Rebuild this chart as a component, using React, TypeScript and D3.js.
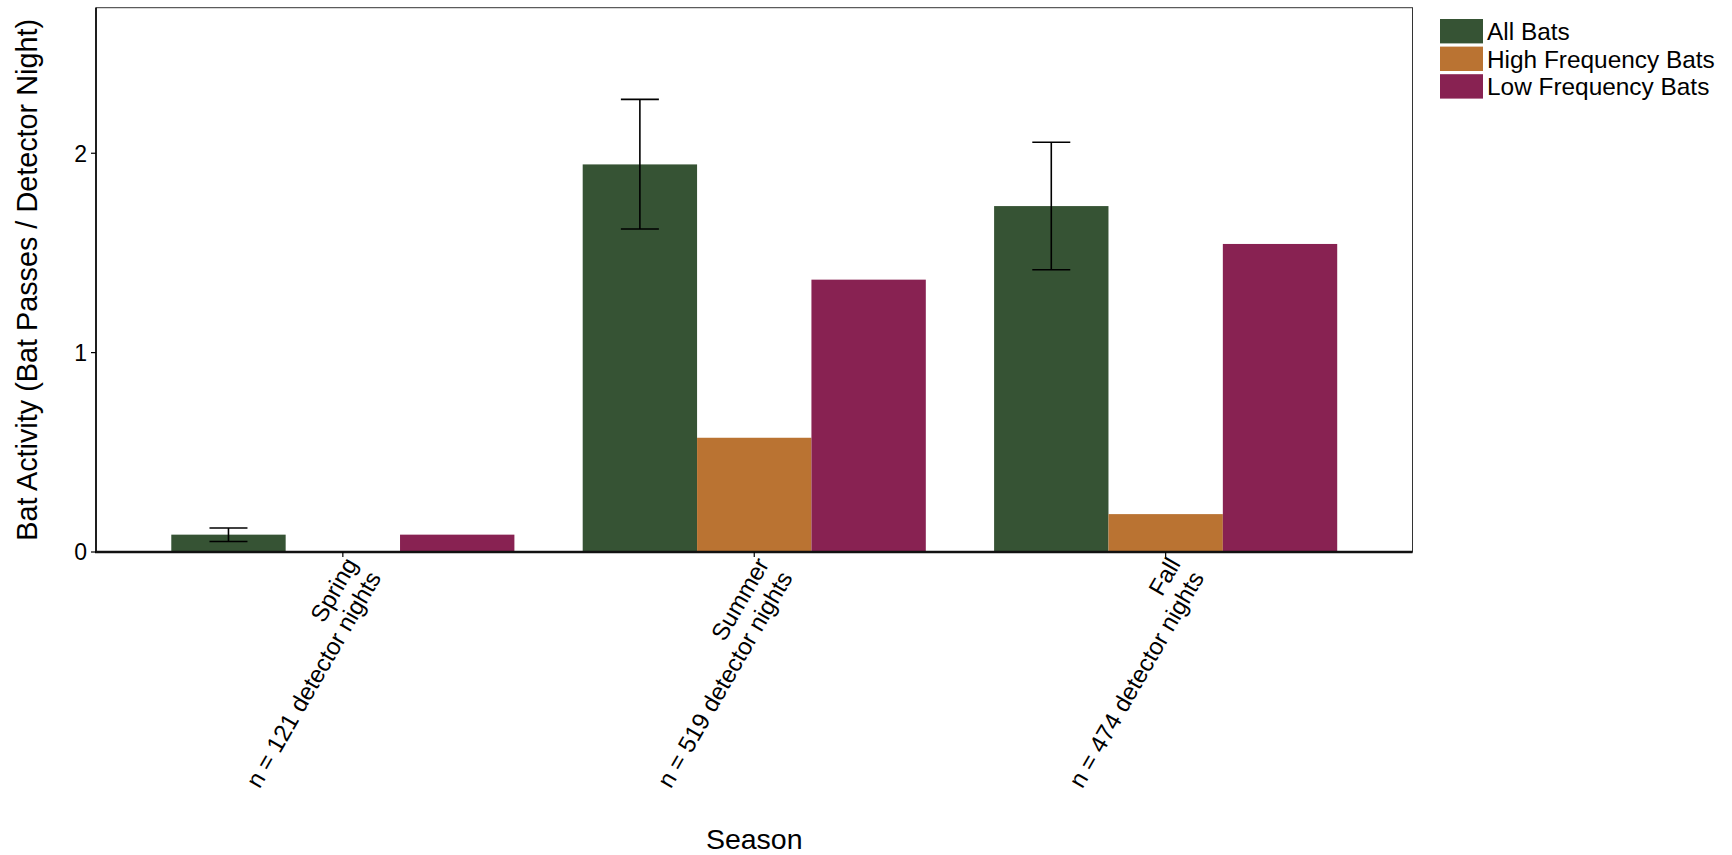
import React from "react";
import * as d3 from "d3";

const seasons = ["Spring", "Summer", "Fall"];
const seasonNights = [121, 519, 474];
const groups = ["All Bats", "High Frequency Bats", "Low Frequency Bats"];
const groupColors = ["#365334", "#BA7332", "#882252"];

const allBats = [0.087, 1.944, 1.735];
const highFreq = [0, 0.573, 0.19];
const lowFreq = [0.087, 1.366, 1.545];

// error bar bounds for the All Bats series
const allLower = [0.053, 1.62, 1.416];
const allUpper = [0.12, 2.27, 2.055];

const yTicks = [0, 1, 2];

const W = 1732;
const H = 855;
const FONT = "'Liberation Sans', Arial, Helvetica, sans-serif";

export default function App() {
  const left = 96;
  const right = 1412.5;
  const top = 7.7;
  const bottom = 552;

  const x = d3
    .scaleBand<string>()
    .domain(seasons)
    .range([left, right])
    .paddingInner(0.166)
    .paddingOuter(0.183);
  const xs = d3
    .scaleBand<string>()
    .domain(groups)
    .range([0, x.bandwidth()])
    .padding(0);
  const y = d3.scaleLinear().domain([0, 2.73]).range([bottom, top]);

  const seriesValues = [allBats, highFreq, lowFreq];
  const capW = 38;

  return (
    <div style={{ position: "absolute", left: 0, top: 0 }}>
      <svg width={W} height={H} style={{ display: "block", background: "#fff" }} fontFamily={FONT}>
        {/* panel border */}
        <rect x={left} y={top} width={right - left} height={bottom - top} fill="none" stroke="#333" strokeWidth={1} />

        {/* bars */}
        {seasons.map((s, i) => (
          <g key={s} transform={`translate(${x(s)},0)`}>
            {groups.map((g, j) => {
              const v = seriesValues[j][i];
              if (v <= 0) return null;
              return (
                <rect
                  key={g}
                  x={xs(g)}
                  y={y(v)}
                  width={xs.bandwidth()}
                  height={y(0) - y(v)}
                  fill={groupColors[j]}
                />
              );
            })}
          </g>
        ))}

        {/* error bars on All Bats */}
        {seasons.map((s, i) => {
          const cx = (x(s) as number) + (xs(groups[0]) as number) + xs.bandwidth() / 2;
          const y1 = y(allLower[i]);
          const y2 = y(allUpper[i]);
          return (
            <g key={s} stroke="#000" strokeWidth={1.6}>
              <line x1={cx} x2={cx} y1={y1} y2={y2} />
              <line x1={cx - capW / 2} x2={cx + capW / 2} y1={y1} y2={y1} />
              <line x1={cx - capW / 2} x2={cx + capW / 2} y1={y2} y2={y2} />
            </g>
          );
        })}

        {/* axes */}
        <line x1={left} x2={left} y1={top} y2={bottom} stroke="#000" strokeWidth={1.6} />
        <line x1={left - 1} x2={right} y1={bottom} y2={bottom} stroke="#111" strokeWidth={2.4} />

        {yTicks.map((t) => (
          <g key={t}>
            <line x1={left - 5} x2={left} y1={y(t)} y2={y(t)} stroke="#000" strokeWidth={1.2} />
            <text x={left - 9} y={y(t)} dy="0.36em" textAnchor="end" fontSize={23} fill="#000">
              {t}
            </text>
          </g>
        ))}

        {seasons.map((s, i) => {
          const cx = (x(s) as number) + x.bandwidth() / 2;
          return (
            <g key={s}>
              <line x1={cx} x2={cx} y1={bottom} y2={bottom + 5} stroke="#000" strokeWidth={1.2} />
              <text
                transform={`translate(${cx},${bottom + 3}) rotate(-60)`}
                textAnchor="end"
                fontSize={24}
                fill="#000"
              >
                <tspan x={0} y={18}>{s}</tspan>
                <tspan x={0} y={45}>{`n = ${seasonNights[i]} detector nights`}</tspan>
              </text>
            </g>
          );
        })}

        {/* axis titles */}
        <text x={(left + right) / 2} y={849} textAnchor="middle" fontSize={28.5} fill="#000">
          Season
        </text>
        <text
          transform={`translate(37,${(top + bottom) / 2}) rotate(-90)`}
          textAnchor="middle"
          fontSize={28.8}
          fill="#000"
        >
          Bat Activity (Bat Passes / Detector Night)
        </text>

        {/* legend */}
        {groups.map((g, j) => (
          <g key={g} transform={`translate(1440,${19 + j * 27.6})`}>
            <rect x={0} y={0} width={43} height={24.4} fill={groupColors[j]} />
            <text x={47} y={12.2} dy="0.36em" fontSize={24.4} fill="#000">
              {g}
            </text>
          </g>
        ))}
      </svg>
    </div>
  );
}
